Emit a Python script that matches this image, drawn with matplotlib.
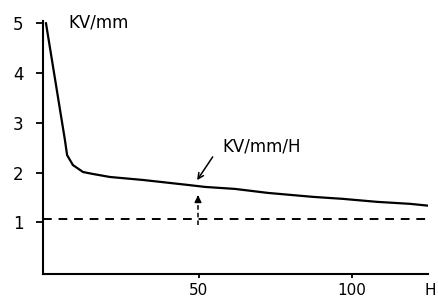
import numpy as np
from matplotlib import pyplot as plt

# values
h = [0, 6.2, 6.9, 8.8, 12.1, 15.4, 20.9, 31.7, 46.4, 52, 61.8, 72.5, 87.3,
     97.1, 108.2, 119, 125.5]
kv = [5.0, 2.65, 2.35, 2.15, 2.01, 1.97, 1.91, 1.85, 1.75, 1.71, 1.67, 1.59,
      1.51, 1.47, 1.41, 1.37, 1.33]
limit = 1.07
xticks = [50, 100]
yticks = [1, 2, 3, 4, 5]
mark_h = 49.7

plt.rcParams['font.family'] = ['DejaVu Sans']

fig = plt.figure(figsize=(4.38, 2.99), dpi=100)
ax = fig.add_axes([0.098, 0.082, 0.880, 0.8485])

ax.plot(h, kv, color="black", lw=1.6)
ax.axhline(limit, color="black", lw=1.4, linestyle=(0, (4.5, 3.5)))

ax.set_xlim(-1, 125)
ax.set_ylim(-0.05, 5.05)
ax.set_xticks(xticks)
ax.set_yticks(yticks)
for s in ["top", "right"]:
    ax.spines[s].set_visible(False)
for s in ["left", "bottom"]:
    ax.spines[s].set_linewidth(1.5)
ax.tick_params(axis="y", length=5, width=1.3, pad=9, labelsize=12)
ax.tick_params(axis="x", length=3, width=1.3, pad=3, labelsize=11)

ax.text(7.2, 5.02, "KV/mm", fontsize=12, va="center", ha="left")
ax.text(125.6, -0.22, "H", fontsize=11, va="top", ha="center", clip_on=False)
ax.text(57.5, 2.53, "KV/mm/H", fontsize=12, va="center", ha="left")

# arrow pointing at the curve
ax.annotate("", xy=(48.9, 1.8), xytext=(55, 2.36),
            arrowprops=dict(arrowstyle="->", color="black", lw=1.1))
# dashed arrow up from the limit line
ax.plot([mark_h, mark_h], [0.95, 1.45], color="black", lw=1.1,
        linestyle=(0, (3, 2)))
ax.annotate("", xy=(mark_h, 1.6), xytext=(mark_h, 1.44),
            arrowprops=dict(arrowstyle="-|>", color="black", lw=1.1,
                            mutation_scale=10))

fig.savefig("out.png", dpi=100)
